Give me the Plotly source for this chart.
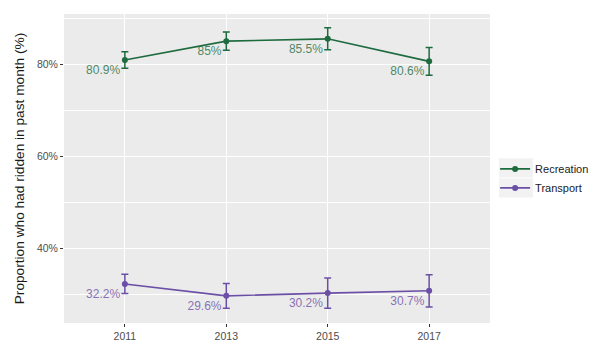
import plotly.graph_objects as go

years = ["2011", "2013", "2015", "2017"]
rec_values = [80.9, 85.0, 85.5, 80.6]
rec_err = [1.8, 2.0, 2.4, 3.0]
tra_values = [32.2, 29.6, 30.2, 30.7]
tra_err = [2.1, 2.7, 3.3, 3.5]
y_ticks = [40, 60, 80]
y_tick_labels = ["40%", "60%", "80%"]

GREEN = "#1d6b3e"
PURPLE = "#6b4fa6"

fig = go.Figure()

def add_series(name, vals, errs, color, textcolor):
    fig.add_trace(go.Scatter(
        x=years, y=vals, name=name, mode="lines+markers+text",
        line=dict(color=color, width=1.6),
        marker=dict(color=color, size=6),
        error_y=dict(type="data", array=errs, visible=True, color=color,
                     thickness=1.5, width=3.5),
        text=[f"{v:g}%" for v in vals],
        textposition="bottom left",
        textfont=dict(color=textcolor, size=12, family="Liberation Sans, Arial, sans-serif"),
        cliponaxis=False,
    ))

add_series("Recreation", rec_values, rec_err, GREEN, "rgba(29,107,62,0.8)")
add_series("Transport", tra_values, tra_err, PURPLE, "rgba(107,79,166,0.8)")

# grey legend key backgrounds (ggplot style)
for yc in [0.502, 0.437]:
    fig.add_shape(type="rect", xref="paper", yref="paper",
                  x0=1.021, x1=1.101, y0=yc - 0.031, y1=yc + 0.031,
                  fillcolor="#f2f2f2", line=dict(width=0), layer="below")

fig.update_layout(
    width=599, height=357,
    margin=dict(l=64, r=109, t=14, b=34, autoexpand=False),
    paper_bgcolor="white",
    plot_bgcolor="#ebebeb",
    font=dict(family="Liberation Sans, Arial, sans-serif", color="#4d4d4d"),
    showlegend=True,
    legend=dict(x=1.012, y=0.468, xanchor="left", yanchor="middle",
                bgcolor="rgba(0,0,0,0)", font=dict(size=11, color="#1a1a1a"),
                itemwidth=30, tracegroupgap=0),
)

fig.update_xaxes(
    type="category", range=[-0.6, 3.6],
    showgrid=True, gridcolor="white", gridwidth=1.2,
    ticks="outside", ticklen=3, tickcolor="#333333", tickwidth=1,
    tickfont=dict(size=10.5, color="#4d4d4d"),
    zeroline=False, showline=False,
)
fig.update_yaxes(
    range=[23.7, 90.9],
    tickvals=y_ticks, ticktext=y_tick_labels,
    showgrid=True, gridcolor="white", gridwidth=1.2,
    minor=dict(tickvals=[30, 50, 70, 90], showgrid=True, gridcolor="white", gridwidth=0.6, ticks=""),
    ticks="outside", ticklen=3, tickcolor="#333333", tickwidth=1,
    tickfont=dict(size=10.5, color="#4d4d4d"),
    zeroline=False, showline=False,
    title=dict(text="Proportion who had ridden in past month (%)",
               font=dict(size=13.7, color="#1a1a1a"), standoff=9),
)

fig.write_html("out.html", config={"displayModeBar": False})

# remove the default page margin so the figure sits at the window's corner
with open("out.html", "r", encoding="utf-8") as f:
    html = f.read()
html = html.replace("<head>", "<head><style>html,body{margin:0;padding:0;overflow:hidden;}</style>", 1)
with open("out.html", "w", encoding="utf-8") as f:
    f.write(html)
